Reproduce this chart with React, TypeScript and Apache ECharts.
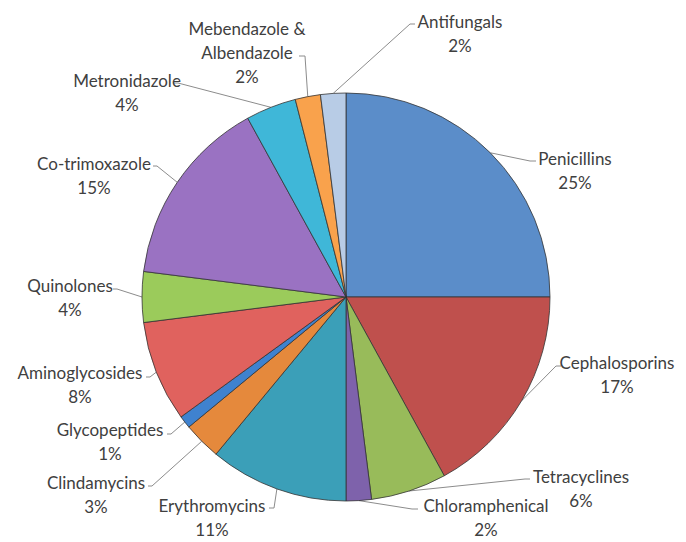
import React, { useEffect, useRef } from "react";
import * as echarts from "echarts";

const categories = [
  "Penicillins",
  "Cephalosporins",
  "Tetracyclines",
  "Chloramphenical",
  "Erythromycins",
  "Clindamycins",
  "Glycopeptides",
  "Aminoglycosides",
  "Quinolones",
  "Co-trimoxazole",
  "Metronidazole",
  "Mebendazole & Albendazole",
  "Antifungals",
];
const values = [25, 17, 6, 2, 11, 3, 1, 8, 4, 15, 4, 2, 2];
const colors = [
  "#5b8dc9",
  "#bf504d",
  "#98bb5a",
  "#7e62ab",
  "#3b9fb8",
  "#e5893c",
  "#3f82cf",
  "#e0625e",
  "#9bcb5b",
  "#9a72c2",
  "#3fb7d8",
  "#f9a24c",
  "#b8cce6",
];

// label block centres (layout only)
const labelCenters: number[][] = [
  [575, 170],
  [617, 374],
  [581, 488],
  [486, 517],
  [212, 517],
  [96, 494],
  [110, 441],
  [80, 384],
  [70, 297],
  [94, 175],
  [127, 92],
  [247, 52],
  [460, 33],
];
// label line bend and end points (layout only)
const lineBends: number[][] = [
  [530, 161],
  [556, 366],
  [525, 479],
  [412, 509],
  [274, 508],
  [152, 486],
  [171, 434],
  [150, 377],
  [117, 289],
  [157, 166],
  [178, 83],
  [305, 56],
  [410, 24],
];
const lineEnds: number[][] = [
  [536, 161],
  [561, 366],
  [530, 479],
  [418, 509],
  [269, 508],
  [148, 486],
  [167, 434],
  [146, 377],
  [113, 289],
  [153, 166],
  [173, 83],
  [299, 56],
  [415, 24],
];

export default function App() {
  const ref = useRef<HTMLDivElement>(null);
  useEffect(() => {
    if (!ref.current) return;
    const chart = echarts.init(ref.current, null, { renderer: "svg" });
    chart.setOption({
      animation: false,
      backgroundColor: "#ffffff",
      series: [
        {
          type: "pie",
          center: [346, 297],
          radius: 204,
          startAngle: 90,
          clockwise: true,
          avoidLabelOverlap: false,
          data: categories.map((name, i) => ({
            name,
            value: values[i],
            itemStyle: { color: colors[i] },
          })),
          itemStyle: { borderColor: "#333333", borderWidth: 0.8 },
          label: {
            show: true,
            position: "outside",
            formatter: (p: any) =>
              p.name.replace(" & ", " &\n") + "\n" + p.value + "%",
            fontFamily: "Lato",
            fontSize: 17,
            lineHeight: 24,
            color: "#404040",
            align: "center",
          },
          labelLine: {
            show: true,
            length: 10,
            length2: 10,
            lineStyle: { color: "#8c8c8c", width: 1 },
          },
          labelLayout: (params: any) => {
            const i = params.dataIndex;
            const start = params.labelLinePoints
              ? params.labelLinePoints[0]
              : lineBends[i];
            return {
              x: labelCenters[i][0],
              y: labelCenters[i][1],
              align: "center",
              verticalAlign: "middle",
              labelLinePoints: [start, lineBends[i], lineEnds[i]],
            };
          },
          emphasis: { disabled: true },
        },
      ],
    });
    return () => chart.dispose();
  }, []);
  return (
    <div
      ref={ref}
      style={{ position: "fixed", left: 0, top: 0, width: 686, height: 542 }}
    />
  );
}
